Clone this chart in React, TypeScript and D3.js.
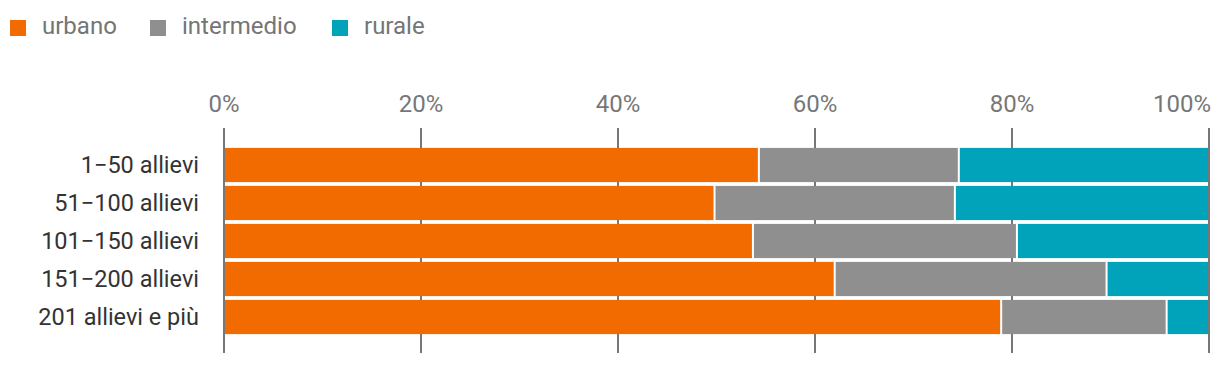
import React from "react";
import * as d3 from "d3";

const categories = [
  "1\u221250 allievi",
  "51\u2212100 allievi",
  "101\u2212150 allievi",
  "151\u2212200 allievi",
  "201 allievi e più",
];
const seriesNames = ["urbano", "intermedio", "rurale"];
const urbano = [54.3, 49.8, 53.7, 62.0, 78.9];
const intermedio = [20.3, 24.4, 26.8, 27.6, 16.8];
const rurale = [25.4, 25.8, 19.5, 10.4, 4.3];
const colors = ["#f26b00", "#8f8f8f", "#00a3ba"];
const ticks = [0, 20, 40, 60, 80, 100];

const width = 1220;
const height = 366;
const font = "Roboto, sans-serif";

export default function App() {
  const rows = categories.map((c, i) => ({
    cat: c,
    urbano: urbano[i],
    intermedio: intermedio[i],
    rurale: rurale[i],
  }));
  const stack = d3.stack<any>().keys(seriesNames)(rows);

  const x = d3.scaleLinear().domain([0, 100]).range([224, 1209]);
  const y = d3
    .scaleBand()
    .domain(categories)
    .range([146, 336])
    .paddingInner(0.1)
    .paddingOuter(0.05);

  const legendX = [10, 150, 332];

  return (
    <svg
      width={width}
      height={height}
      style={{ position: "absolute", left: 0, top: 0 }}
      fontFamily={font}
    >
      {/* legend */}
      {seriesNames.map((s, i) => (
        <g key={s} transform={`translate(${legendX[i]},0)`}>
          <rect x={0} y={20} width={16} height={16} fill={colors[i]} />
          <text x={32} y={34} fontSize={24} fill="#757575">
            {s}
          </text>
        </g>
      ))}

      {/* gridlines + tick labels */}
      {ticks.map((t) => (
        <g key={t}>
          <line
            x1={x(t)}
            x2={x(t)}
            y1={128}
            y2={353}
            stroke="#777"
            strokeWidth={2}
          />
          <text
            x={x(t)}
            y={112}
            textAnchor={t === 100 ? "end" : "middle"}
            dx={t === 100 ? 2 : 0}
            fontSize={24}
            fill="#777"
          >
            {t}%
          </text>
        </g>
      ))}

      {/* bars */}
      {stack.map((layer, li) =>
        layer.map((d, i) => {
          const x0 = x(d[0]) + 1;
          const x1 = x(d[1]) - 1;
          return (
            <rect
              key={`${li}-${i}`}
              x={x0}
              y={y(categories[i])}
              width={Math.max(0, x1 - x0)}
              height={y.bandwidth()}
              fill={colors[li]}
            />
          );
        })
      )}

      {/* category labels */}
      {categories.map((c) => (
        <text
          key={c}
          x={199}
          y={(y(c) as number) + y.bandwidth() / 2}
          dy="0.36em"
          textAnchor="end"
          fontSize={23.5}
          fill="#333"
        >
          {c}
        </text>
      ))}
    </svg>
  );
}
